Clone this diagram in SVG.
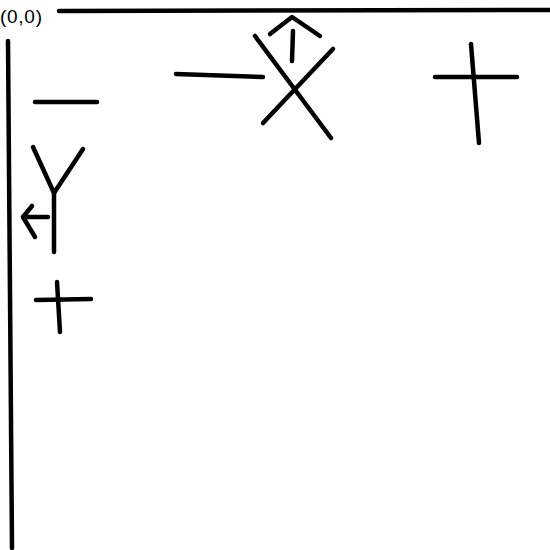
<svg xmlns="http://www.w3.org/2000/svg" width="550" height="550" viewBox="0 0 550 550">
<style>
.s{fill:none;stroke:#000;stroke-width:4.5;stroke-linecap:round;stroke-linejoin:round}
.t{font-family:"Liberation Sans",Arial,sans-serif;font-size:19px;fill:#000}
</style>
<rect width="550" height="550" fill="#fff"/>
<text class="t" x="0" y="23" textLength="42">(0,0)</text>
<g id="axes" class="s">
<path d="M59 11 L550 10"/>
<path d="M8 41 L12 548"/>
</g>
<g id="top-dash" class="s"><path d="M176 74 L263 77"/></g>
<g id="x-arrow" class="s">
<path d="M255 36 L331 138"/>
<path d="M333 49 L263 123"/>
<path d="M293 31 L292 61"/>
<path d="M270 34 L292 17 L320 36"/>
</g>
<g id="top-plus" class="s">
<path d="M435 77 L517 77"/>
<path d="M471 44 L479 143"/>
</g>
<g id="left-dash" class="s"><path d="M35 102 L97 102"/></g>
<g id="y-arrow" class="s">
<path d="M33 147 L54 193 L83 149"/>
<path d="M54 193 L54 252"/>
<path d="M48 217 L23 217"/>
<path d="M32 206 L23 217 L35 237"/>
</g>
<g id="left-plus" class="s">
<path d="M36 300 L91 299"/>
<path d="M57 282 L60 332"/>
</g>
</svg>
